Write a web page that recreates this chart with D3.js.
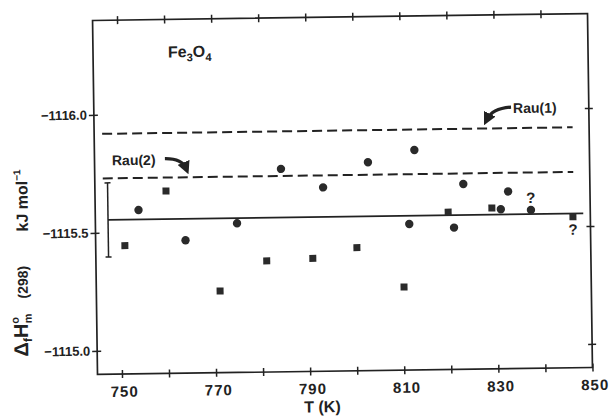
<!DOCTYPE html>
<html>
<head>
<meta charset="utf-8">
<script src="https://cdn.jsdelivr.net/npm/d3@7"></script>
<style>
body { margin: 0; background: #fff; }
svg text { font-family: "Liberation Sans", Arial, sans-serif; font-weight: bold; fill: #222; }
</style>
</head>
<body>
<svg id="chart" width="610" height="419"></svg>
<script>
// run with squares
var squareT = [751.0, 759.9, 771.1, 781.1, 790.9, 800.3, 810.2, 819.8, 829.1, 846.3];
var squareH = [-1115.444, -1115.673, -1115.246, -1115.371, -1115.379, -1115.422, -1115.252, -1115.567, -1115.582, -1115.540];
// run with circles
var circleT = [754.0, 763.9, 774.9, 784.4, 793.3, 802.9, 811.5, 812.8, 821.0, 823.1, 831.0, 832.6, 837.4];
var circleH = [-1115.594, -1115.463, -1115.532, -1115.760, -1115.679, -1115.783, -1115.519, -1115.832, -1115.501, -1115.685, -1115.576, -1115.651, -1115.571];
// points flagged with "?"
var flaggedCircle = [12];
var flaggedSquare = [9];

// mean value with its uncertainty, and the two Rau values
var meanH = -1115.554, meanErr = 0.157;
var rauNames = ["Rau(1)", "Rau(2)"];
var rauH = [-1115.919, -1115.730];
var lineT = [746.5, 846.5];
var meanT = [747.5, 848.5];

var xTicks = [750, 760, 770, 780, 790, 800, 810, 820, 830, 840, 850];
var xLabels = [750, 770, 790, 810, 830, 850];
var yTicks = [-1116.0, -1115.5, -1115.0];

(function() {
var svg = d3.select("#chart");
// the scanned figure sits slightly tilted
var g = svg.append("g").attr("transform", "rotate(-0.8 342 194)");

var pl = 95, pr = 590, pt = 17, pb = 371;
var x = d3.scaleLinear().domain([744.8, 850]).range([pl, pr]);
var y = d3.scaleLinear().domain([-1116.4, -1114.9]).range([pt, pb]);

var ink = "#222";

g.append("rect")
    .attr("x", pl).attr("y", pt)
    .attr("width", pr - pl).attr("height", pb - pt)
    .attr("fill", "none").attr("stroke", ink).attr("stroke-width", 1.7);

function styleAxis(sel, fontSize) {
    sel.select(".domain").remove();
    sel.selectAll(".tick line").attr("stroke", ink).attr("stroke-width", 1.5);
    sel.selectAll(".tick text").attr("fill", ink).style("font-size", fontSize + "px")
        .style("font-family", "'Liberation Sans', Arial, sans-serif");
}

g.append("g")
    .attr("transform", "translate(0," + (pb - 4) + ")")
    .call(d3.axisBottom(x).tickValues(xTicks).tickSize(8).tickPadding(8)
        .tickFormat(function(d) { return xLabels.indexOf(d) >= 0 ? d : ""; }))
    .call(function(s) { styleAxis(s, 15); s.selectAll(".tick text").attr("dx", 2).style("letter-spacing", "1px"); });

g.append("g")
    .attr("transform", "translate(0," + (pt + 4) + ")")
    .call(d3.axisTop(x).tickValues(xTicks.slice(0, -1)).tickSize(8).tickFormat(""))
    .call(function(s) { styleAxis(s, 12); });

g.append("g")
    .attr("transform", "translate(" + (pl + 4) + ",0)")
    .call(d3.axisLeft(y).tickValues(yTicks).tickSize(9).tickPadding(2).tickFormat(d3.format(".1f")))
    .call(function(s) { styleAxis(s, 13); });

g.append("g")
    .attr("transform", "translate(" + (pr - 4) + ",0)")
    .call(d3.axisRight(y).tickValues(yTicks).tickSize(8).tickFormat(""))
    .call(function(s) { styleAxis(s, 12); });

// Rau reference lines (dashed)
g.selectAll(".rau").data(rauH).enter().append("line")
    .attr("class", "rau")
    .attr("x1", x(lineT[0])).attr("x2", x(lineT[1]))
    .attr("y1", function(d) { return y(d); }).attr("y2", function(d) { return y(d); })
    .attr("stroke", ink).attr("stroke-width", 2).attr("stroke-dasharray", "10,5");

// mean line and its error bar
g.append("line")
    .attr("x1", x(meanT[0])).attr("x2", x(meanT[1]))
    .attr("y1", y(meanH)).attr("y2", y(meanH))
    .attr("stroke", ink).attr("stroke-width", 1.8);

var eb = g.append("g").attr("stroke", ink).attr("stroke-width", 1.5);
eb.append("line")
    .attr("x1", x(meanT[0])).attr("x2", x(meanT[0]))
    .attr("y1", y(meanH - meanErr)).attr("y2", y(meanH + meanErr));
[meanH - meanErr, meanH + meanErr].forEach(function(v) {
    eb.append("line")
        .attr("x1", x(meanT[0]) - 3).attr("x2", x(meanT[0]) + 3)
        .attr("y1", y(v)).attr("y2", y(v));
});

// data points
var sq = 7;
g.selectAll(".sq").data(squareT).enter().append("rect")
    .attr("class", "sq")
    .attr("x", function(d) { return x(d) - sq / 2; })
    .attr("y", function(d, i) { return y(squareH[i]) - sq / 2; })
    .attr("width", sq).attr("height", sq)
    .attr("fill", "#2a2a2a");

g.selectAll(".ci").data(circleT).enter().append("circle")
    .attr("class", "ci")
    .attr("cx", function(d) { return x(d); })
    .attr("cy", function(d, i) { return y(circleH[i]); })
    .attr("r", 4.2)
    .attr("fill", "#2a2a2a");

flaggedCircle.forEach(function(i) {
    g.append("text").attr("x", x(circleT[i])).attr("y", y(circleH[i]) - 7)
        .attr("text-anchor", "middle").style("font-size", "15px").text("?");
});
flaggedSquare.forEach(function(i) {
    g.append("text").attr("x", x(squareT[i])).attr("y", y(squareH[i]) + 18)
        .attr("text-anchor", "middle").style("font-size", "15px").text("?");
});

// labels with arrows
var defs = svg.append("defs");
defs.append("marker")
    .attr("id", "head").attr("viewBox", "0 0 10 10")
    .attr("refX", 5).attr("refY", 5)
    .attr("markerWidth", 4).attr("markerHeight", 4)
    .attr("orient", "auto")
    .append("path").attr("d", "M0,0 L10,5 L0,10 z").attr("fill", ink);

g.append("text").attr("x", x(833.9)).attr("y", y(rauH[0]) - 15)
    .style("font-size", "14px").text(rauNames[0]);
g.append("path")
    .attr("d", "M" + (x(833.9) - 2) + "," + (y(rauH[0]) - 21) +
               " Q" + (x(829.5)) + "," + (y(rauH[0]) - 20) + " " + (x(828.3)) + "," + (y(rauH[0]) - 9))
    .attr("fill", "none").attr("stroke", ink).attr("stroke-width", 3.2)
    .attr("marker-end", "url(#head)");

g.append("text").attr("x", x(748.5)).attr("y", y(rauH[1]) - 13)
    .style("font-size", "14px").text(rauNames[1]);
g.append("path")
    .attr("d", "M" + (x(748.5) + 53) + "," + (y(rauH[1]) - 19) +
               " Q" + (x(748.5) + 70) + "," + (y(rauH[1]) - 19) + " " + (x(748.5) + 74) + "," + (y(rauH[1]) - 9))
    .attr("fill", "none").attr("stroke", ink).attr("stroke-width", 3.2)
    .attr("marker-end", "url(#head)");

// compound name
var fe = g.append("text").attr("x", 170).attr("y", 55).style("font-size", "16px");
fe.append("tspan").text("Fe");
fe.append("tspan").attr("dy", 4).style("font-size", "11px").text("3");
fe.append("tspan").attr("dy", -4).text("O");
fe.append("tspan").attr("dy", 4).style("font-size", "11px").text("4");

// axis titles
g.append("text").attr("x", (pl + pr) / 2 - 23).attr("y", 412)
    .attr("text-anchor", "middle").style("font-size", "16px").text("T (K)");

var yt1 = g.append("text").attr("transform", "translate(26,352) rotate(-90)").style("font-size", "20px");
yt1.append("tspan").text("\u0394");
yt1.append("tspan").attr("dy", 4).style("font-size", "12px").text("f");
yt1.append("tspan").attr("dy", -4).text("H");
yt1.append("tspan").attr("dy", -9).style("font-size", "11px").text("o");
yt1.append("tspan").attr("dx", -6.5).attr("dy", 13).style("font-size", "11px").text("m");

g.append("text").attr("transform", "translate(26.5,294) rotate(-90)")
    .style("font-size", "14px").text("(298)");

var yt3 = g.append("text").attr("transform", "translate(27.5,227) rotate(-90)").style("font-size", "16px");
yt3.append("tspan").text("kJ  mol");
yt3.append("tspan").attr("dy", -7).style("font-size", "10px").text("\u22121");
})();
</script>
</body>
</html>
